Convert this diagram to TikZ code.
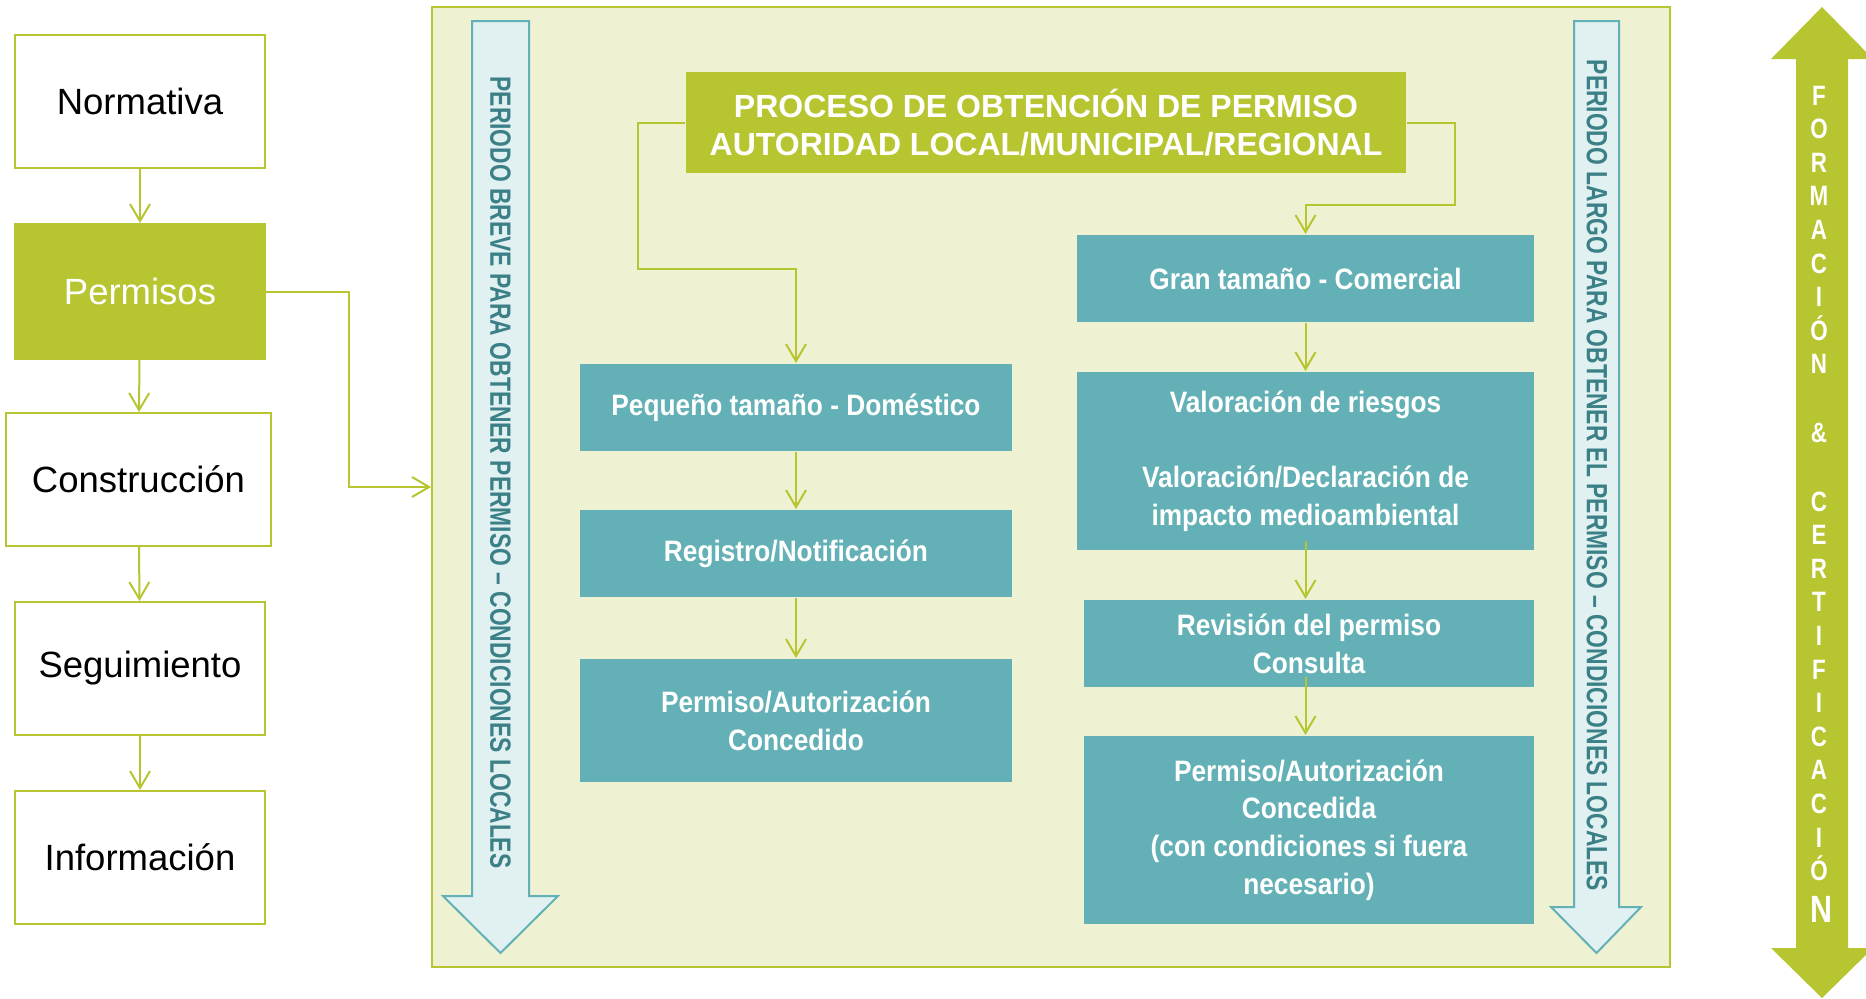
\documentclass[tikz,border=0pt]{standalone}
\usepackage{fontspec}
\setmainfont{Liberation Sans}
\newfontfamily\tealfont[FakeStretch=0.89]{Liberation Sans}
\newfontfamily\periodfont[FakeStretch=0.78]{Liberation Sans}
\newfontfamily\formfont[FakeStretch=0.8]{Liberation Sans}
\usetikzlibrary{positioning,arrows.meta,calc}
\definecolor{lima}{RGB}{183,197,49}
\definecolor{crema}{RGB}{238,242,210}
\definecolor{turquesa}{RGB}{99,177,182}
\definecolor{hielo}{RGB}{225,241,241}
\definecolor{petroleo}{RGB}{59,128,135}

\begin{document}
\begin{tikzpicture}[x=0.5pt,y=-0.5pt,line width=1pt,
	flow/.style={draw=lima,-{Straight Barb[length=8.5pt,width=10pt]}},
	leftbox/.style={draw=lima,fill=white,inner sep=0pt,minimum width=125pt,minimum height=66.5pt,font=\fontsize{18.25}{22}\selectfont},
	tealbox/.style={fill=turquesa,text=white,align=center,inner sep=0pt,font=\tealfont\bfseries\fontsize{14.75}{18.9}\selectfont},
	period/.style={rotate=-90,text=petroleo,inner sep=0pt,font=\periodfont\bfseries\fontsize{14.65}{16}\selectfont},
	formletter/.style={anchor=base,text=white,inner sep=0pt,font=\formfont\bfseries\fontsize{14}{16}\selectfont}]
		\useasboundingbox (0,0) rectangle (1866,998);
		
		% columna izquierda
		\node[leftbox] (norm) at (140,101.5) {Normativa};
		\node[leftbox,fill=lima,text=white,minimum height=67.5pt] (perm) at (140,291.5) {Permisos};
		\node[leftbox,minimum width=132.5pt] (cons) at (138.5,479.5) {Construcción};
		\node[leftbox] (segu) at (140,668.5) {Seguimiento};
		\node[leftbox] (info) at (140,857.5) {Información};
		
		\draw[flow] (norm) -- (perm);
		\draw[flow] (perm) -- (cons);
		\draw[flow] (cons) -- (segu);
		\draw[flow] (segu) -- (info);
		
		% proceso
		\node[draw=lima,fill=crema,inner sep=0pt,minimum width=619pt,minimum height=480pt] (marco) at (1051,487) {};
		\draw[flow] (perm.east) -- ++(83,0) |- (marco.west);
		
		\draw[draw=turquesa,fill=hielo] (472,21) -- (529,21) -- (529,896) -- (558,896) -- (500.5,953) -- (443,896) -- (472,896) -- cycle;
		\draw[draw=turquesa,fill=hielo] (1574,21) -- (1619,21) -- (1619,907) -- (1641,907) -- (1596.5,953) -- (1551,907) -- (1574,907) -- cycle;
		\node[period] (breve) at (500.5,472.5) {PERIODO BREVE PARA OBTENER PERMISO – CONDICIONES LOCALES};
		\node[period] (largo) at (1597,475.5) {PERIODO LARGO PARA OBTENER EL PERMISO – CONDICIONES LOCALES};
		
		\node[fill=lima,text=white,align=center,inner sep=0pt,minimum width=360pt,minimum height=50.5pt,font=\bfseries\fontsize{16}{19.25}\selectfont] (titulo) at (1046,122.5) {PROCESO DE OBTENCIÓN DE PERMISO\\AUTORIDAD LOCAL/MUNICIPAL/REGIONAL};
		
		\node[tealbox,minimum width=216pt,minimum height=43.5pt] (peq) at (796,407.5) {Pequeño tamaño - Doméstico};
		\node[tealbox,minimum width=216pt,minimum height=43.5pt] (reg) at (796,553.5) {Registro/Notificación};
		\node[tealbox,minimum width=216pt,minimum height=61.5pt] (conc) at (796,720.5) {Permiso/Autorización\\Concedido};
		
		\node[tealbox,minimum width=228.5pt,minimum height=43.5pt] (gran) at (1305.5,278.5) {Gran tamaño - Comercial};
		\node[tealbox,minimum width=228.5pt,minimum height=89pt] (valo) at (1305.5,461) {Valoración de riesgos\\[18.9pt]Valoración/Declaración de\\impacto medioambiental};
		\node[tealbox,minimum width=225pt,minimum height=43.5pt] (revi) at (1309,643.5) {Revisión del permiso\\Consulta};
		\node[tealbox,minimum width=225pt,minimum height=94pt] (concb) at (1309,830) {Permiso/Autorización\\Concedida\\(con condiciones si fuera\\necesario)};
		
		\draw[flow] (titulo.west) -- ++(-47,0) -- ++(0,146) -| (peq.north);
		\draw[flow] (titulo.east) -- ++(48,0) -- ++(0,82) -| (gran.north);
		\draw[flow] (peq) -- (reg);
		\draw[flow] (reg) -- (conc);
		\draw[flow] (gran) -- (valo);
		\draw[flow] ($(valo.south)+(0,-10)$) -- (valo.south |- revi.north);
		\draw[flow] ($(valo.south |- revi.south)+(0,-11)$) -- (valo.south |- concb.north);
		
		% formacion y certificacion
		\fill[lima] (1822,7) -- (1873,59) -- (1848,59) -- (1848,948) -- (1873,948) -- (1822,998) -- (1771,948) -- (1796,948) -- (1796,59) -- (1771,59) -- cycle;
		\foreach \ch [count=\k from 0] in {F,O,R,M,A,C,I,Ó,N}
			\node[formletter] (fa\k) at (1819,{105+33.6*\k}) {\ch};
		\node[formletter] (amp) at (1819,442) {\&};
		\foreach \ch [count=\k from 0] in {C,E,R,T,I,F,I,C,A,C,I,Ó}
			\node[formletter] (fb\k) at (1819,{511+33.6*\k}) {\ch};
		\node[formletter,font=\formfont\bfseries\fontsize{19}{21}\selectfont] (fin) at (1821,922) {N};
	\end{tikzpicture}
\end{document}
